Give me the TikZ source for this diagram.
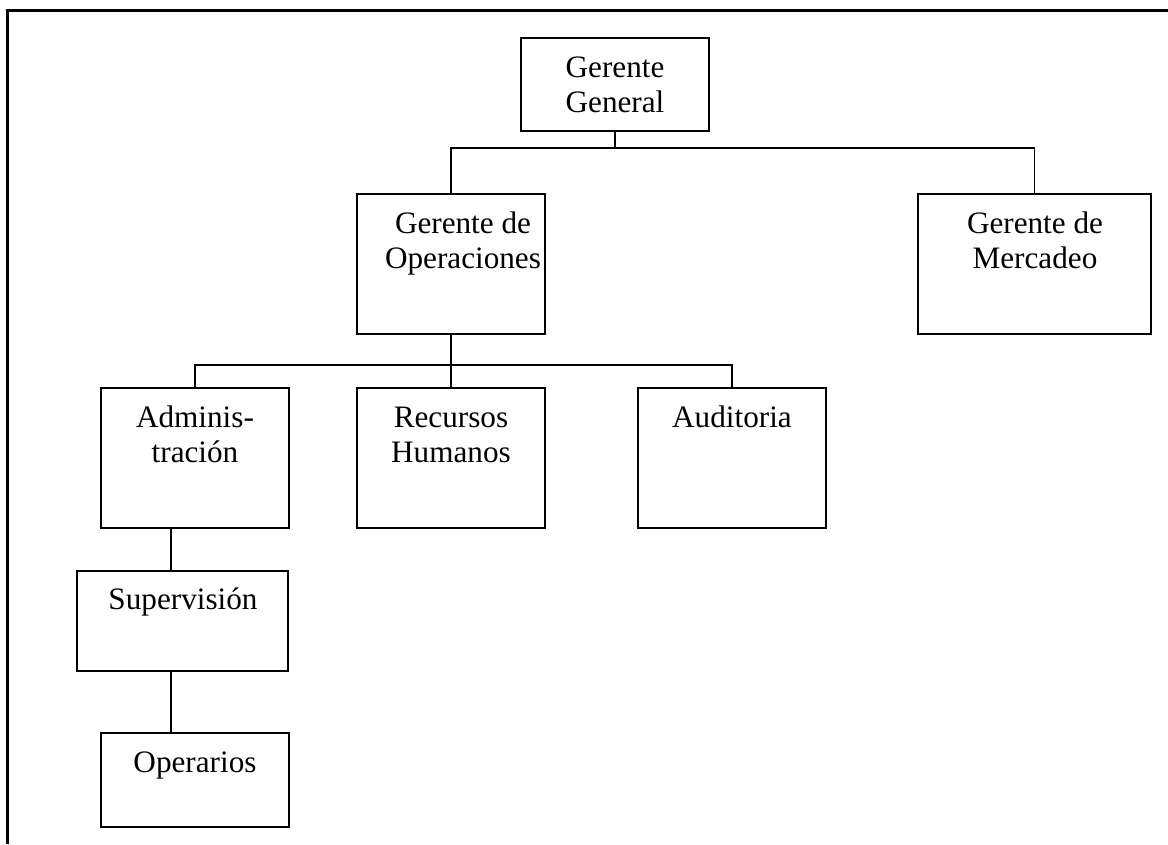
\documentclass[tikz,border=0pt]{standalone}
\usepackage{fontspec}
\setmainfont{Liberation Serif}
\newcommand\twolines[2]{\begin{tabular}[t]{@{}c@{}}#1\\#2\end{tabular}}
\begin{document}
\begin{tikzpicture}[x=1pt,y=-1pt,
  orgbox/.style={draw=black, line width=1.6pt, rectangle, inner sep=0pt, outer sep=0pt},
  txt/.style={anchor=base, inner sep=0pt, outer sep=0pt, font=\fontsize{31.2}{35.5}\selectfont},
  link/.style={draw=black, line width=1.7pt},
  frame/.style={draw=black, line width=2.4pt}]
\useasboundingbox (0,0) rectangle (1168,844);
\draw[frame] (7.5,844) -- (7.5,10.5) -- (1168,10.5);

% boxes
\node[orgbox, minimum width=188, minimum height=93]  (gg)  at (615,84.5) {};
\node[orgbox, minimum width=188, minimum height=140] (ops) at (451,264) {};
\node[orgbox, minimum width=233, minimum height=140] (mer) at (1034.5,264) {};
\node[orgbox, minimum width=188, minimum height=140] (adm) at (195,458) {};
\node[orgbox, minimum width=188, minimum height=140] (rh)  at (451,458) {};
\node[orgbox, minimum width=188, minimum height=140] (aud) at (732,458) {};
\node[orgbox, minimum width=211, minimum height=100] (sup) at (182.5,621) {};
\node[orgbox, minimum width=188, minimum height=94]  (ope) at (195,780) {};

% texts
\node[txt] (tgg)  at (615,77)  {\twolines{Gerente}{General}};
\node[txt] (tops) at (463,233) {\twolines{Gerente de}{Operaciones}};
\node[txt] (tmer) at (1035,233) {\twolines{Gerente de}{Mercadeo}};
\node[txt] (tadm) at (195,427) {\twolines{Adminis-}{tración}};
\node[txt] (trh)  at (451,427) {\twolines{Recursos}{Humanos}};
\node[txt] (taud) at (732,427) {Auditoria};
\node[txt] (tsup) at (183,609) {Supervisión};
\node[txt] (tope) at (195,772) {Operarios};

% connectors
\coordinate (j1) at (615,148);
\coordinate (j2) at (451,365);
\coordinate (k)  at (171,0);
\draw[link] (gg.south) -- (j1);
\draw[link] (ops.north) |- (j1) -| (mer.north);
\draw[link] (ops.south) -- (rh.north);
\draw[link] (adm.north) |- (j2) -| (aud.north);
\draw[link] (adm.south -| k) -- (sup.north -| k);
\draw[link] (sup.south -| k) -- (ope.north -| k);
\end{tikzpicture}
\end{document}
